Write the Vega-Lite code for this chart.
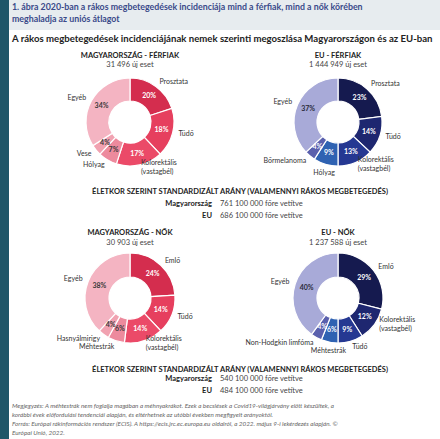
{
  "$schema": "https://vega.github.io/schema/vega-lite/v6.json",
  "padding": 0,
  "background": "#ffffff",
  "spacing": 0,
  "bounds": "full",
  "resolve": {"scale": {"color": "independent"}},
  "config": {"view": {"stroke": null}, "font": "Lato", "text": {"font": "Lato"}, "title": {"font": "Lato", "subtitleFont": "Lato"}},
  "hconcat": [
    {"width": 9, "height": 439, "view": {"fill": "#1f5668", "stroke": null}, "data": {"values": []}, "mark": "point"},
    {
      "spacing": 7,
      "bounds": "full",
      "resolve": {"scale": {"color": "independent", "theta": "independent"}},
      "title": {
        "text": [
          "Megjegyzés: A méhtestrák nem foglalja magában a méhnyakrákot. Ezek a becslések a Covid19-világjárvány előtt készültek, a",
          "korábbi évek előfordulási tendenciái alapján, és eltérhetnek az utóbbi években megfigyelt arányoktól.",
          "Forrás: Európai rákinformációs rendszer (ECIS). A https://ecis.jrc.ec.europa.eu oldalról, a 2022. május 9-i lekérdezés alapján. ©",
          "Európai Unió, 2022."
        ],
        "orient": "bottom", "anchor": "start", "offset": -34, "dx": 3,
        "fontSize": 6.3, "fontStyle": "italic", "fontWeight": "normal", "color": "#666666", "lineHeight": 9
      },
      "vconcat": [
        {
          "width": 431, "height": 30,
          "view": {"fill": "#e7ecef", "stroke": null},
          "data": {"values": []}, "mark": "point",
          "title": {
            "text": ["1. ábra 2020-ban a rákos megbetegedések incidenciája mind a férfiak, mind a nők körében", "meghaladja az uniós átlagot"],
            "subtitle": "A rákos megbetegedések incidenciájának nemek szerinti megoszlása Magyarországon és az EU-ban",
            "orient": "bottom", "anchor": "start", "frame": "group", "offset": -27, "dx": 3,
            "fontSize": 8.8, "fontWeight": "bold", "color": "#3a4a8a", "lineHeight": 11.5,
            "subtitleFontSize": 9.6, "subtitleFontWeight": "bold", "subtitleColor": "#222222", "subtitlePadding": 11
          }
        },
        {
          "columns": 2,
          "spacing": {"row": 0, "column": 0},
          "bounds": "flush",
          "align": "each",
          "resolve": {"scale": {"color": "independent", "theta": "independent"}},
          "concat": [
            {
              "width": 242, "height": 70,
              "title": {"text": "MAGYARORSZÁG - FÉRFIAK", "subtitle": "31 496 új eset", "orient": "top", "anchor": "middle", "offset": 7, "fontSize": 7.5, "fontWeight": "bold", "color": "#222222", "subtitleFontSize": 7.5, "subtitleColor": "#444444", "subtitlePadding": 2},
              "data": {"values": [
                {"i": 1, "cat": "Prosztata", "pct": 0.20},
                {"i": 2, "cat": "Tüdő", "pct": 0.18},
                {"i": 3, "cat": "Kolorektális\n(vastagbél)", "pct": 0.17},
                {"i": 4, "cat": "Hólyag", "pct": 0.07},
                {"i": 5, "cat": "Vese", "pct": 0.04},
                {"i": 6, "cat": "Egyéb", "pct": 0.34}
              ]},
              "encoding": {"theta": {"field": "pct", "type": "quantitative", "stack": true}, "order": {"field": "i", "type": "quantitative"}},
              "layer": [
                {"mark": {"type": "arc", "innerRadius": 21, "outerRadius": 44, "stroke": "white", "strokeWidth": 1.2},
                 "encoding": {"color": {"field": "cat", "type": "nominal", "legend": null, "scale": {"domain": ["Prosztata", "Tüdő", "Kolorektális\n(vastagbél)", "Hólyag", "Vese", "Egyéb"], "range": ["#d42d4e", "#e63f5e", "#eb4a68", "#ed8a9d", "#f1a2b1", "#f4b4c2"]}}}},
                {"mark": {"type": "text", "radius": 32.5, "fontSize": 7, "fontWeight": "bold"},
                 "encoding": {"text": {"field": "pct", "type": "quantitative", "format": ".0%"}, "detail": {"field": "cat"}, "color": {"condition": {"test": "datum.pct < 0.1 || datum.cat == 'Egyéb'", "value": "#3a3a3a"}, "value": "#ffffff"}}},
                {"mark": {"type": "text", "radius": 50, "fontSize": 7, "color": "#333333", "lineBreak": "\n",
                          "align": {"expr": "(datum.pct_start + datum.pct_end) / 2 < 0.5 ? 'left' : ((datum.pct_start + datum.pct_end) / 2 < 0.548 ? 'center' : 'right')"},
                          "dy": {"expr": "test(regexp('vastag'), datum.cat) ? -8 : (((datum.pct_start + datum.pct_end) / 2 >= 0.5 && (datum.pct_start + datum.pct_end) / 2 < 0.548) ? 3 : 0)"}},
                 "encoding": {"text": {"field": "cat"}, "detail": {"field": "cat"}}}
              ]
            },
            {
              "width": 174, "height": 70,
              "title": {"text": "EU - FÉRFIAK", "subtitle": "1 444 949 új eset", "orient": "top", "anchor": "middle", "offset": 7, "fontSize": 7.5, "fontWeight": "bold", "color": "#222222", "subtitleFontSize": 7.5, "subtitleColor": "#444444", "subtitlePadding": 2},
              "data": {"values": [
                {"i": 1, "cat": "Prosztata", "pct": 0.23},
                {"i": 2, "cat": "Tüdő", "pct": 0.14},
                {"i": 3, "cat": "Kolorektális\n(vastagbél)", "pct": 0.13},
                {"i": 4, "cat": "Hólyag", "pct": 0.09},
                {"i": 5, "cat": "Bőrmelanoma", "pct": 0.04},
                {"i": 6, "cat": "Egyéb", "pct": 0.37}
              ]},
              "encoding": {"theta": {"field": "pct", "type": "quantitative", "stack": true}, "order": {"field": "i", "type": "quantitative"}},
              "layer": [
                {"mark": {"type": "arc", "innerRadius": 21, "outerRadius": 44, "stroke": "white", "strokeWidth": 1.2},
                 "encoding": {"color": {"field": "cat", "type": "nominal", "legend": null, "scale": {"domain": ["Prosztata", "Tüdő", "Kolorektális\n(vastagbél)", "Hólyag", "Bőrmelanoma", "Egyéb"], "range": ["#151a4f", "#1e2770", "#253892", "#2f62b2", "#5a60ad", "#a8aad8"]}}}},
                {"mark": {"type": "text", "radius": 32.5, "fontSize": 7, "fontWeight": "bold"},
                 "encoding": {"text": {"field": "pct", "type": "quantitative", "format": ".0%"}, "detail": {"field": "cat"}, "color": {"condition": {"test": "datum.cat == 'Egyéb'", "value": "#2a2a3a"}, "value": "#ffffff"}}},
                {"mark": {"type": "text", "radius": 50, "fontSize": 7, "color": "#333333", "lineBreak": "\n",
                          "align": {"expr": "(datum.pct_start + datum.pct_end) / 2 < 0.5 ? 'left' : ((datum.pct_start + datum.pct_end) / 2 < 0.548 ? 'center' : 'right')"},
                          "dy": {"expr": "test(regexp('vastag'), datum.cat) ? -8 : (((datum.pct_start + datum.pct_end) / 2 >= 0.5 && (datum.pct_start + datum.pct_end) / 2 < 0.548) ? 3 : 0)"}},
                 "encoding": {"text": {"field": "cat"}, "detail": {"field": "cat"}}}
              ]
            },
            {
              "width": 242, "height": 106,
              "title": {"text": "ÉLETKOR SZERINT STANDARDIZÁLT ARÁNY (VALAMENNYI RÁKOS MEGBETEGEDÉS)", "orient": "top", "anchor": "middle", "offset": -38, "dx": 110, "fontSize": 7.5, "fontWeight": "bold", "color": "#222222"},
              "data": {"values": [
                {"i": 1, "country": "Magyarország", "rate": "761 100 000 főre vetítve"},
                {"i": 2, "country": "EU", "rate": "686 100 000 főre vetítve"}
              ]},
              "layer": [
                {"mark": {"type": "text", "align": "right", "dx": 82, "dy": {"expr": "datum.i == 1 ? -6 : 5.5"}, "fontSize": 7.5, "fontWeight": "bold", "color": "#222222"}, "encoding": {"text": {"field": "country"}}},
                {"mark": {"type": "text", "align": "left", "dx": 90, "dy": {"expr": "datum.i == 1 ? -6 : 5.5"}, "fontSize": 7.5, "color": "#444444"}, "encoding": {"text": {"field": "rate"}}}
              ]
            },
            {"width": 174, "height": 1, "data": {"values": []}, "mark": "point"},
            {
              "width": 242, "height": 70,
              "title": {"text": "MAGYARORSZÁG - NŐK", "subtitle": "30 903 új eset", "orient": "top", "anchor": "middle", "offset": 4.5, "fontSize": 7.5, "fontWeight": "bold", "color": "#222222", "subtitleFontSize": 7.5, "subtitleColor": "#444444", "subtitlePadding": 2},
              "data": {"values": [
                {"i": 1, "cat": "Emlő", "pct": 0.24},
                {"i": 2, "cat": "Tüdő", "pct": 0.14},
                {"i": 3, "cat": "Kolorektális\n(vastagbél)", "pct": 0.14},
                {"i": 4, "cat": "Méhtestrák", "pct": 0.06},
                {"i": 5, "cat": "Hasnyálmirigy", "pct": 0.04},
                {"i": 6, "cat": "Egyéb", "pct": 0.38}
              ]},
              "encoding": {"theta": {"field": "pct", "type": "quantitative", "stack": true}, "order": {"field": "i", "type": "quantitative"}},
              "layer": [
                {"mark": {"type": "arc", "innerRadius": 21, "outerRadius": 45, "stroke": "white", "strokeWidth": 1.2},
                 "encoding": {"color": {"field": "cat", "type": "nominal", "legend": null, "scale": {"domain": ["Emlő", "Tüdő", "Kolorektális\n(vastagbél)", "Méhtestrák", "Hasnyálmirigy", "Egyéb"], "range": ["#d42d4e", "#e63f5e", "#eb4a68", "#ed8a9d", "#f1a2b1", "#f4b4c2"]}}}},
                {"mark": {"type": "text", "radius": 33, "fontSize": 7, "fontWeight": "bold"},
                 "encoding": {"text": {"field": "pct", "type": "quantitative", "format": ".0%"}, "detail": {"field": "cat"}, "color": {"condition": {"test": "datum.pct < 0.1 || datum.cat == 'Egyéb'", "value": "#3a3a3a"}, "value": "#ffffff"}}},
                {"mark": {"type": "text", "radius": 51, "fontSize": 7, "color": "#333333", "lineBreak": "\n",
                          "align": {"expr": "(datum.pct_start + datum.pct_end) / 2 < 0.5 ? 'left' : ((datum.pct_start + datum.pct_end) / 2 < 0.548 ? 'center' : 'right')"},
                          "dy": {"expr": "test(regexp('vastag'), datum.cat) ? -8 : (((datum.pct_start + datum.pct_end) / 2 >= 0.5 && (datum.pct_start + datum.pct_end) / 2 < 0.548) ? 3 : 0)"}},
                 "encoding": {"text": {"field": "cat"}, "detail": {"field": "cat"}}}
              ]
            },
            {
              "width": 174, "height": 70,
              "title": {"text": "EU - NŐK", "subtitle": "1 237 588 új eset", "orient": "top", "anchor": "middle", "offset": 4.5, "fontSize": 7.5, "fontWeight": "bold", "color": "#222222", "subtitleFontSize": 7.5, "subtitleColor": "#444444", "subtitlePadding": 2},
              "data": {"values": [
                {"i": 1, "cat": "Emlő", "pct": 0.29},
                {"i": 2, "cat": "Kolorektális\n(vastagbél)", "pct": 0.12},
                {"i": 3, "cat": "Tüdő", "pct": 0.09},
                {"i": 4, "cat": "Méhtestrák", "pct": 0.06},
                {"i": 5, "cat": "Non-Hodgkin limfóma", "pct": 0.04},
                {"i": 6, "cat": "Egyéb", "pct": 0.40}
              ]},
              "encoding": {"theta": {"field": "pct", "type": "quantitative", "stack": true}, "order": {"field": "i", "type": "quantitative"}},
              "layer": [
                {"mark": {"type": "arc", "innerRadius": 21, "outerRadius": 45, "stroke": "white", "strokeWidth": 1.2},
                 "encoding": {"color": {"field": "cat", "type": "nominal", "legend": null, "scale": {"domain": ["Emlő", "Kolorektális\n(vastagbél)", "Tüdő", "Méhtestrák", "Non-Hodgkin limfóma", "Egyéb"], "range": ["#151a4f", "#1e2770", "#253892", "#2f62b2", "#5a60ad", "#a8aad8"]}}}},
                {"mark": {"type": "text", "radius": 33, "fontSize": 7, "fontWeight": "bold"},
                 "encoding": {"text": {"field": "pct", "type": "quantitative", "format": ".0%"}, "detail": {"field": "cat"}, "color": {"condition": {"test": "datum.cat == 'Egyéb'", "value": "#2a2a3a"}, "value": "#ffffff"}}},
                {"mark": {"type": "text", "radius": 51, "fontSize": 7, "color": "#333333", "lineBreak": "\n",
                          "align": {"expr": "(datum.pct_start + datum.pct_end) / 2 < 0.5 ? 'left' : ((datum.pct_start + datum.pct_end) / 2 < 0.548 ? 'center' : 'right')"},
                          "dy": {"expr": "test(regexp('vastag'), datum.cat) ? -8 : (((datum.pct_start + datum.pct_end) / 2 >= 0.5 && (datum.pct_start + datum.pct_end) / 2 < 0.548) ? 3 : 0)"}},
                 "encoding": {"text": {"field": "cat"}, "detail": {"field": "cat"}}}
              ]
            },
            {
              "width": 242, "height": 104,
              "title": {"text": "ÉLETKOR SZERINT STANDARDIZÁLT ARÁNY (VALAMENNYI RÁKOS MEGBETEGEDÉS)", "orient": "top", "anchor": "middle", "offset": -40, "dx": 110, "fontSize": 7.5, "fontWeight": "bold", "color": "#222222"},
              "data": {"values": [
                {"i": 1, "country": "Magyarország", "rate": "540 100 000 főre vetítve"},
                {"i": 2, "country": "EU", "rate": "484 100 000 főre vetítve"}
              ]},
              "layer": [
                {"mark": {"type": "text", "align": "right", "dx": 82, "dy": {"expr": "datum.i == 1 ? -6 : 6"}, "fontSize": 7.5, "fontWeight": "bold", "color": "#222222"}, "encoding": {"text": {"field": "country"}}},
                {"mark": {"type": "text", "align": "left", "dx": 90, "dy": {"expr": "datum.i == 1 ? -6 : 6"}, "fontSize": 7.5, "color": "#444444"}, "encoding": {"text": {"field": "rate"}}}
              ]
            },
            {"width": 174, "height": 1, "data": {"values": []}, "mark": "point"}
          ]
        }
      ]
    }
  ]
}
